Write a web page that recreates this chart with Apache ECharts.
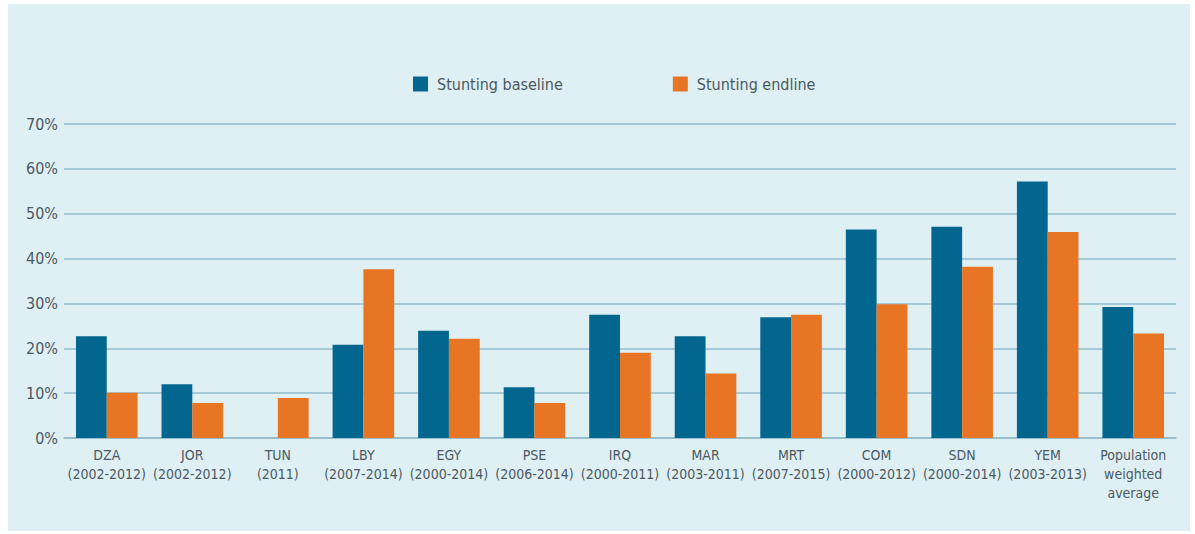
<!DOCTYPE html>
<html>
<head>
<meta charset="utf-8">
<script src="https://cdn.jsdelivr.net/npm/echarts@6/dist/echarts.min.js"></script>
<style>
	html,body{margin:0;padding:0;background:#fff;}
	#main{width:1195px;height:534px;}
	#main text{font-stretch:condensed !important;}
</style>
</head>
<body>
<div id="main"></div>
<script type="text/javascript">
	// categories (country + survey years)
	var categories = [
		"DZA\n(2002-2012)","JOR\n(2002-2012)","TUN\n(2011)","LBY\n(2007-2014)",
		"EGY\n(2000-2014)","PSE\n(2006-2014)","IRQ\n(2000-2011)","MAR\n(2003-2011)",
		"MRT\n(2007-2015)","COM\n(2000-2012)","SDN\n(2000-2014)","YEM\n(2003-2013)",
		"Population\nweighted\naverage"
	];
	// stunting prevalence, %
	var baseline = [22.7, 12.0, null, 20.8, 23.9, 11.3, 27.5, 22.7, 26.9, 46.5, 47.1, 57.2, 29.2];
	var endline  = [10.1, 7.8, 8.9, 37.6, 22.1, 7.8, 19.0, 14.4, 27.5, 29.8, 38.2, 45.9, 23.3];
	var yTicks = [0, 10, 20, 30, 40, 50, 60, 70];

	var font = '"DejaVu Sans"';//drawn condensed through the css above
	var txtColor = "#4b5862";

	var myChart = echarts.init(document.getElementById("main"),null,{renderer:"svg"});
	var option = {
		backgroundColor:"#ffffff",
		textStyle:{fontFamily:font},
		graphic:[{
			type:"rect",
			z:-10,
			silent:true,
			shape:{x:8,y:4,width:1182,height:527},
			style:{fill:"#dff0f5"}
		}],
		legend:{
			top:76,
			left:413,
			padding:0,
			itemWidth:15,
			itemHeight:15,
			itemGap:96,
			icon:"rect",
			textStyle:{fontFamily:font,fontSize:16,color:txtColor,padding:[0,0,0,4]},
			data:["Stunting baseline","Stunting endline"]
		},
		grid:{left:64,right:19,top:124,bottom:96},
		xAxis:{
			type:"category",
			data:categories,
			axisLine:{show:true,lineStyle:{color:"#93b9c7",width:1.5}},
			axisTick:{show:false},
			axisLabel:{
				interval:0,
				margin:7,
				fontFamily:font,
				fontSize:14,
				lineHeight:19,
				color:txtColor
			}
		},
		yAxis:{
			type:"value",
			min:yTicks[0],
			max:yTicks[yTicks.length-1],
			interval:10,
			axisLine:{show:false},
			axisTick:{show:false},
			splitLine:{lineStyle:{color:"#93bccb",width:1.5}},
			axisLabel:{
				formatter:"{value}%",
				margin:6,
				fontFamily:font,
				fontSize:16,
				color:txtColor
			}
		},
		series:[
			{
				name:"Stunting baseline",
				type:"bar",
				barGap:"0%",
				barCategoryGap:"28%",
				itemStyle:{color:"#03668f"},
				data:baseline
			},
			{
				name:"Stunting endline",
				type:"bar",
				barGap:"0%",
				barCategoryGap:"28%",
				itemStyle:{color:"#e87524"},
				data:endline
			}
		]
	};
	myChart.setOption(option);
</script>
</body>
</html>
